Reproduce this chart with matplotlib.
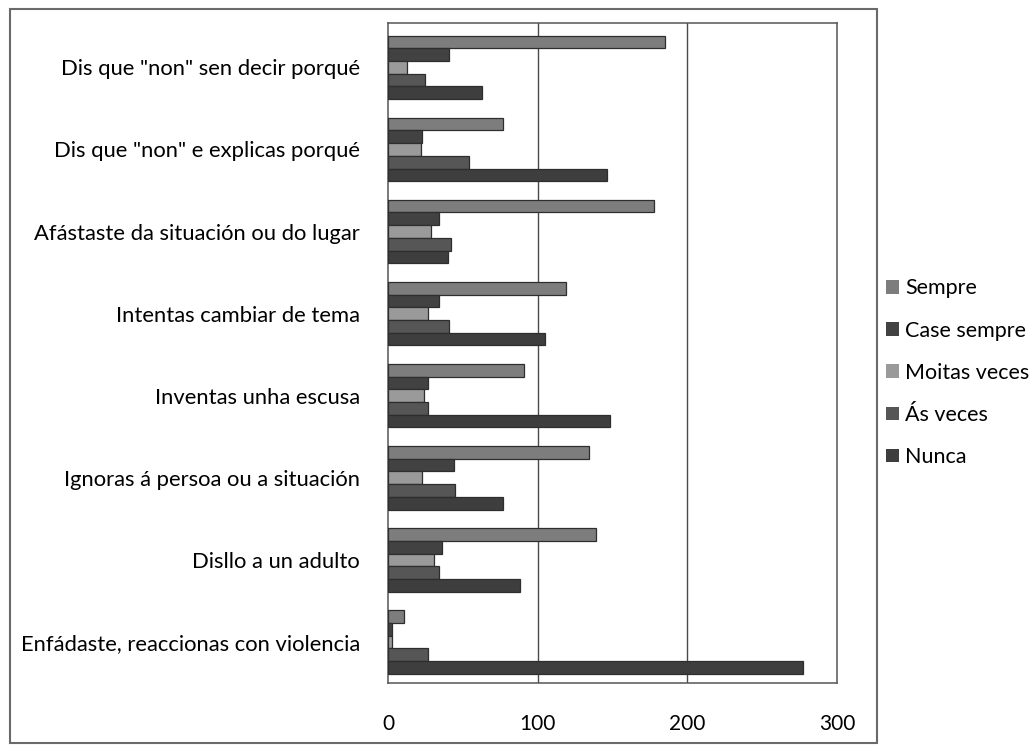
import matplotlib
matplotlib.use("Agg")
import matplotlib.pyplot as plt
from matplotlib.patches import Rectangle
import numpy as np

plt.rcParams['font.family'] = ['Lato', 'DejaVu Sans']

categories = [
    'Dis que "non" sen decir porqué',
    'Dis que "non" e explicas porqué',
    'Afástaste da situación ou do lugar',
    'Intentas cambiar de tema',
    'Inventas unha escusa',
    'Ignoras á persoa ou a situación',
    'Disllo a un adulto',
    'Enfádaste, reaccionas con violencia',
]
series = ['Sempre', 'Case sempre', 'Moitas veces', 'Ás veces', 'Nunca']
sempre       = [185, 77, 178, 119, 91, 134, 139, 11]
case_sempre  = [41, 23, 34, 34, 27, 44, 36, 3]
moitas_veces = [13, 22, 29, 27, 24, 23, 31, 3]
as_veces     = [25, 54, 42, 41, 27, 45, 34, 27]
nunca        = [63, 146, 40, 105, 148, 77, 88, 277]
values = [sempre, case_sempre, moitas_veces, as_veces, nunca]
colors = ['#7d7d7d', '#424242', '#9a9a9a', '#565656', '#3e3e3e']
xticks = [0, 100, 200, 300]

W, H = 1035, 746
fig = plt.figure(figsize=(W/100, H/100), dpi=100)
# outer chart border
fig.patches.append(Rectangle((10/W, 1-743/H), (877-10)/W, (743-9)/H,
                             transform=fig.transFigure, fill=False,
                             edgecolor='#6a6a6a', lw=1.5))
ax = fig.add_axes([388/W, 1-683/H, (837-388)/W, (683-23)/H])

h = 0.155
y = np.arange(len(categories))
for j, (name, vals, c) in enumerate(zip(series, values, colors)):
    ax.barh(y + (j-2)*h, vals, height=h, color=c, edgecolor='#2e2e2e',
            lw=0.9, label=name, zorder=3)

ax.set_xlim(0, 300)
ax.set_ylim(7.5, -0.54)
ax.set_yticks(y)
ax.set_yticklabels(categories, fontsize=15.8)
ax.set_xticks(xticks)
ax.set_xticklabels([str(t) for t in xticks], fontsize=15)
ax.tick_params(axis='y', length=0, pad=20)
ax.tick_params(axis='x', length=0, pad=22)
for t in [100, 200]:
    ax.axvline(t, color='#4a4a4a', lw=1, zorder=1)
for s in ['left', 'top', 'right', 'bottom']:
    ax.spines[s].set_color('#555555')
    ax.spines[s].set_linewidth(1.1)

leg = ax.legend(loc='center left', bbox_to_anchor=(1.09, 0.47), frameon=False,
                fontsize=15.5, handlelength=0.6, handleheight=0.6,
                handletextpad=0.3, labelspacing=1.03, borderaxespad=0)
for p in leg.get_patches():
    p.set_edgecolor('none')

fig.savefig('out.png', dpi=100)
